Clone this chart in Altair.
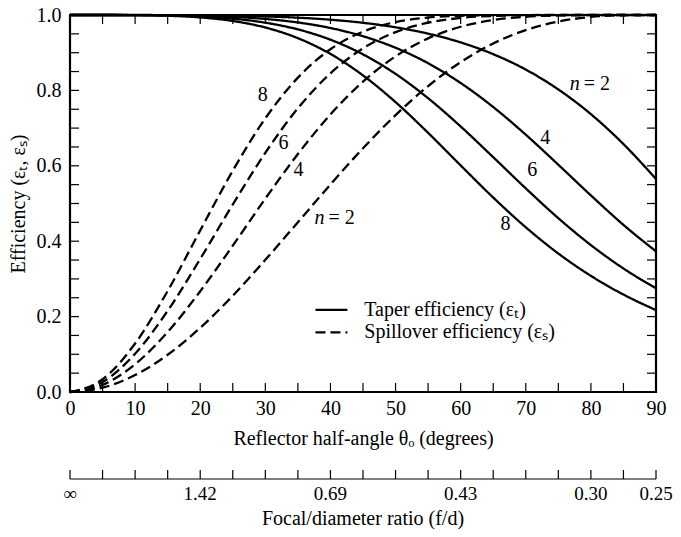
import altair as alt
import pandas as pd

# ---------------- data ----------------
theta = [0, 5, 10, 15, 20, 25, 30, 35, 40, 45, 50, 55, 60, 65, 70, 75, 80, 85, 90]

taper_n2 = [1.0, 1.0, 1.0, 0.9998, 0.9993, 0.9983, 0.9962, 0.9929, 0.9875, 0.9793, 0.9674, 0.9505, 0.9273, 0.8961, 0.8552, 0.8025, 0.7370, 0.6576, 0.5650]
taper_n4 = [1.0, 1.0, 0.9999, 0.9994, 0.9980, 0.9950, 0.9895, 0.9802, 0.9655, 0.9437, 0.9131, 0.8721, 0.8196, 0.7559, 0.6825, 0.6028, 0.5215, 0.4433, 0.3731]
taper_n6 = [1.0, 1.0, 0.9998, 0.9988, 0.9961, 0.9903, 0.9796, 0.9618, 0.9345, 0.8956, 0.8438, 0.7793, 0.7043, 0.6228, 0.5401, 0.4610, 0.3897, 0.3276, 0.2751]
taper_n8 = [1.0, 1.0, 0.9996, 0.9980, 0.9936, 0.9842, 0.9668, 0.9386, 0.8967, 0.8398, 0.7689, 0.6874, 0.6010, 0.5158, 0.4369, 0.3673, 0.3081, 0.2585, 0.2171]

spill_n2 = [0.0, 0.0114, 0.0449, 0.0987, 0.1702, 0.2553, 0.3505, 0.4503, 0.5505, 0.6464, 0.7344, 0.8113, 0.8750, 0.9245, 0.9600, 0.9827, 0.9948, 0.9993, 1.0]
spill_n4 = [0.0, 0.0189, 0.0737, 0.1591, 0.2673, 0.3882, 0.5129, 0.6312, 0.7362, 0.8232, 0.8903, 0.9379, 0.9688, 0.9865, 0.9953, 0.9988, 0.9998, 1.0, 1.0]
spill_n6 = [0.0, 0.0263, 0.1016, 0.2154, 0.3530, 0.4974, 0.6346, 0.7525, 0.8452, 0.9116, 0.9547, 0.9796, 0.9922, 0.9976, 0.9995, 0.9999, 1.0, 1.0, 1.0]
spill_n8 = [0.0, 0.0337, 0.1287, 0.2680, 0.4287, 0.5871, 0.7260, 0.8339, 0.9092, 0.9558, 0.9813, 0.9933, 0.9980, 0.9996, 0.9999, 1.0, 1.0, 1.0, 1.0]

type_names = ["Taper efficiency (εₜ)", "Spillover efficiency (εₛ)"]

x_label_values = [0, 10, 20, 30, 40, 50, 60, 70, 80, 90]
x_minor_ticks = [5, 10, 15, 20, 25, 30, 35, 40, 45, 50, 55, 60, 65, 70, 75, 80, 85]
y_label_values = [0.0, 0.2, 0.4, 0.6, 0.8, 1.0]
y_minor_ticks = [0.05, 0.1, 0.15, 0.2, 0.25, 0.3, 0.35, 0.4, 0.45, 0.5, 0.55, 0.6, 0.65, 0.7, 0.75, 0.8, 0.85, 0.9, 0.95]

fd_tick_angles = [0, 5, 10, 15, 20, 25, 30, 35, 40, 45, 50, 55, 60, 65, 70, 75, 80, 85, 90]
fd_label_angles = [0, 20, 40, 60, 80, 90]
fd_labels = ["∞", "1.42", "0.69", "0.43", "0.30", "0.25"]

num_label_text = ["8", "6", "4", "4", "6", "8"]
num_label_theta = [29.6, 32.8, 35.1, 73.0, 71.0, 66.9]
num_label_eff = [0.787, 0.661, 0.589, 0.674, 0.589, 0.445]

n2_label_theta = [39.1, 78.3]
n2_label_eff = [0.461, 0.816]

# legend rows (placed in data coordinates inside the plot)
legend_theta_start = [37.7, 37.7]
legend_theta_end = [42.6, 42.6]
legend_text_theta = [45.2, 45.2]
legend_eff = [0.218, 0.158]

# ---------------- build tables ----------------
rows = []
for n, tv, sv in [(2, taper_n2, spill_n2), (4, taper_n4, spill_n4),
                  (6, taper_n6, spill_n6), (8, taper_n8, spill_n8)]:
    for t, a, b in zip(theta, tv, sv):
        rows.append({"theta": t, "eff": a, "type": type_names[0], "series": f"t{n}"})
        rows.append({"theta": t, "eff": b, "type": type_names[1], "series": f"s{n}"})
df = pd.DataFrame(rows)

FONT = "Liberation Serif"
FS = 20
W, H = 586, 377
xscale = alt.Scale(domain=[0, 90], nice=False, zero=False)
yscale = alt.Scale(domain=[0, 1], nice=False, zero=False)
dash_scale = alt.Scale(domain=type_names, range=[[1, 0], [10, 5]])

xaxis = alt.Axis(values=x_label_values, format="d", ticks=False, domain=False, grid=False,
                 labelFont=FONT, labelFontSize=FS, labelColor="black", labelPadding=6,
                 labelFlush=False, title="Reflector half-angle θₒ (degrees)",
                 titleFont=FONT, titleFontSize=FS, titleFontWeight="normal",
                 titleColor="black", titlePadding=10)
yaxis = alt.Axis(values=y_label_values, format=".1f", ticks=False, domain=False, grid=False,
                 labelFont=FONT, labelFontSize=FS, labelColor="black", labelPadding=9,
                 labelFlush=False, title="Efficiency (εₜ, εₛ)",
                 titleFont=FONT, titleFontSize=FS, titleFontWeight="normal",
                 titleColor="black", titlePadding=8)

X = lambda f="theta": alt.X(f"{f}:Q", scale=xscale, axis=xaxis)
Y = lambda f="eff": alt.Y(f"{f}:Q", scale=yscale, axis=yaxis)

lines = alt.Chart(df).mark_line(color="black", strokeWidth=2.3, interpolate="monotone").encode(
    x=X(), y=Y(),
    strokeDash=alt.StrokeDash("type:N", scale=dash_scale, legend=None),
    detail="series:N",
)

xt = pd.DataFrame({"theta": x_minor_ticks})
yt = pd.DataFrame({"eff": y_minor_ticks})
TL = 9
ticks_bottom = alt.Chart(xt).mark_rule(color="black", strokeWidth=1.2).encode(
    x=X(), y=alt.value(H), y2=alt.value(H - TL))
ticks_top = alt.Chart(xt).mark_rule(color="black", strokeWidth=1.2).encode(
    x=X(), y=alt.value(0), y2=alt.value(TL))
ticks_left = alt.Chart(yt).mark_rule(color="black", strokeWidth=1.2).encode(
    y=Y(), x=alt.value(0), x2=alt.value(TL))
ticks_right = alt.Chart(yt).mark_rule(color="black", strokeWidth=1.2).encode(
    y=Y(), x=alt.value(W), x2=alt.value(W - TL))

# secondary (f/d) axis drawn below the main axis
FD_Y = 464
fd_line = alt.Chart(pd.DataFrame({"theta": [0], "theta2": [90]})).mark_rule(
    color="black", strokeWidth=1.2).encode(
    x=X(), x2="theta2:Q", y=alt.value(FD_Y))
fd_ticks = alt.Chart(pd.DataFrame({"theta": fd_tick_angles})).mark_rule(
    color="black", strokeWidth=1.2).encode(
    x=X(), y=alt.value(FD_Y), y2=alt.value(FD_Y - 9))
fd_text = alt.Chart(pd.DataFrame({"theta": fd_label_angles, "label": fd_labels})).mark_text(
    font=FONT, fontSize=19, color="black", baseline="middle", align="center").encode(
    x=X(), y=alt.value(FD_Y + 15), text="label:N")
fd_title = alt.Chart(pd.DataFrame({"t": ["Focal/diameter ratio (f/d)"]})).mark_text(
    font=FONT, fontSize=FS, color="black", baseline="middle", align="center").encode(
    x=alt.value(W / 2), y=alt.value(FD_Y + 40), text="t:N")

# curve labels
num_df = pd.DataFrame({"theta": num_label_theta, "eff": num_label_eff, "txt": num_label_text})
num_labels = alt.Chart(num_df).mark_text(font=FONT, fontSize=FS, color="black",
                                         baseline="middle", align="center").encode(
    x=X(), y=Y(), text="txt:N")
n2_df = pd.DataFrame({"theta": n2_label_theta, "eff": n2_label_eff})
n_italic = alt.Chart(n2_df).mark_text(font=FONT, fontSize=FS, fontStyle="italic", color="black",
                                      baseline="middle", align="right", text="n").encode(
    x=X(), y=Y())
n_eq = alt.Chart(n2_df).mark_text(font=FONT, fontSize=FS, color="black",
                                  baseline="middle", align="left", dx=4, text="= 2").encode(
    x=X(), y=Y())

# legend
leg_df = pd.DataFrame({"theta": legend_theta_start, "theta2": legend_theta_end,
                       "text_theta": legend_text_theta, "eff": legend_eff, "type": type_names})
leg_lines = alt.Chart(leg_df).mark_rule(color="black", strokeWidth=2.3).encode(
    x=X(), x2="theta2:Q", y=Y(),
    strokeDash=alt.StrokeDash("type:N", scale=dash_scale, legend=None))
leg_text = alt.Chart(leg_df).mark_text(font=FONT, fontSize=FS, color="black",
                                       baseline="middle", align="left").encode(
    x=X("text_theta"), y=Y(), text="type:N")

chart = alt.layer(
    lines, ticks_bottom, ticks_top, ticks_left, ticks_right,
    fd_line, fd_ticks, fd_text, fd_title, num_labels, n_italic, n_eq,
    leg_lines, leg_text
).properties(
    width=W, height=H,
    autosize=alt.AutoSizeParams(type="none"),
    padding={"left": 62, "top": 7, "right": 17, "bottom": 137},
).configure_view(stroke="black", strokeWidth=2.2)

chart.save("out.html", embed_options={"renderer": "svg", "actions": False})
